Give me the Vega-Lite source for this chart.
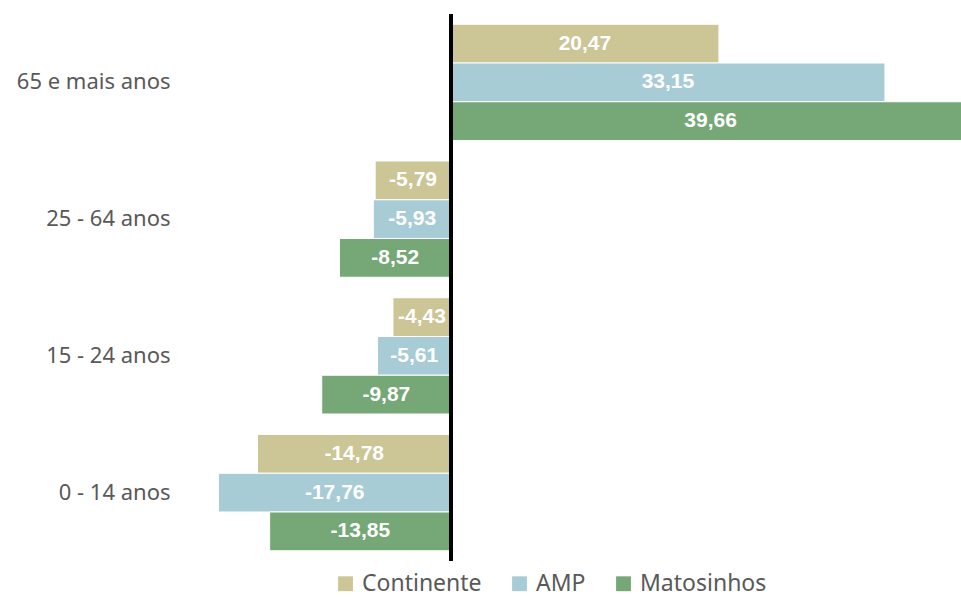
{
  "$schema": "https://vega.github.io/schema/vega-lite/v6.json",
  "width": 761,
  "height": 547,
  "autosize": {"type": "none"},
  "padding": {"left": 200, "top": 14, "right": 0, "bottom": 36},
  "background": "white",
  "config": {
    "view": {"stroke": null},
    "font": "Noto Sans",
    "locale": {"number": {"decimal": ",", "thousands": ".", "grouping": [3], "currency": ["", " €"], "minus": "-"}}
  },
  "data": {
    "values": [
      {"grupo": "65 e mais anos", "serie": "Continente", "valor": 20.47},
      {"grupo": "65 e mais anos", "serie": "AMP", "valor": 33.15},
      {"grupo": "65 e mais anos", "serie": "Matosinhos", "valor": 39.66},
      {"grupo": "25 - 64 anos", "serie": "Continente", "valor": -5.79},
      {"grupo": "25 - 64 anos", "serie": "AMP", "valor": -5.93},
      {"grupo": "25 - 64 anos", "serie": "Matosinhos", "valor": -8.52},
      {"grupo": "15 - 24 anos", "serie": "Continente", "valor": -4.43},
      {"grupo": "15 - 24 anos", "serie": "AMP", "valor": -5.61},
      {"grupo": "15 - 24 anos", "serie": "Matosinhos", "valor": -9.87},
      {"grupo": "0 - 14 anos", "serie": "Continente", "valor": -14.78},
      {"grupo": "0 - 14 anos", "serie": "AMP", "valor": -17.76},
      {"grupo": "0 - 14 anos", "serie": "Matosinhos", "valor": -13.85}
    ]
  },
  "layer": [
    {
      "mark": {"type": "bar", "stroke": "white", "strokeWidth": 1, "clip": true},
      "encoding": {
        "y": {
          "field": "grupo",
          "type": "nominal",
          "sort": ["65 e mais anos", "25 - 64 anos", "15 - 24 anos", "0 - 14 anos"],
          "scale": {"paddingInner": 0.15, "paddingOuter": 0.075},
          "axis": {
            "title": null,
            "domain": false,
            "ticks": false,
            "labelPadding": 30,
            "labelFontSize": 22,
            "labelColor": "#595959",
            "labelFont": "Noto Sans"
          }
        },
        "yOffset": {
          "field": "serie",
          "type": "nominal",
          "sort": ["Continente", "AMP", "Matosinhos"],
          "scale": {"paddingInner": 0, "paddingOuter": 0}
        },
        "x": {
          "field": "valor",
          "type": "quantitative",
          "scale": {"domain": [-19.17, 38.96], "nice": false, "zero": false},
          "axis": null
        },
        "color": {
          "field": "serie",
          "type": "nominal",
          "sort": ["Continente", "AMP", "Matosinhos"],
          "scale": {"domain": ["Continente", "AMP", "Matosinhos"], "range": ["#CCC595", "#A8CCD6", "#75A876"]},
          "legend": {
            "title": null,
            "orient": "none",
            "direction": "horizontal",
            "legendX": 134,
            "legendY": 558,
            "symbolType": "square",
            "symbolSize": 220,
            "symbolStrokeWidth": 0,
            "labelFontSize": 23,
            "labelColor": "#595959",
            "labelFont": "Noto Sans",
            "columnPadding": 26,
            "labelOffset": 5
          }
        }
      }
    },
    {
      "transform": [{"calculate": "datum.valor / 2", "as": "meio"}],
      "mark": {"type": "text", "color": "white", "fontWeight": "bold", "fontSize": 21, "font": "Liberation Sans", "align": "center", "baseline": "middle"},
      "encoding": {
        "y": {"field": "grupo", "type": "nominal", "sort": ["65 e mais anos", "25 - 64 anos", "15 - 24 anos", "0 - 14 anos"]},
        "yOffset": {"field": "serie", "type": "nominal", "sort": ["Continente", "AMP", "Matosinhos"]},
        "x": {"field": "meio", "type": "quantitative"},
        "text": {"field": "valor", "type": "quantitative", "format": ".2f"}
      }
    },
    {
      "mark": {"type": "rule", "color": "black", "strokeWidth": 3},
      "encoding": {"x": {"datum": 0, "type": "quantitative"}}
    }
  ]
}
